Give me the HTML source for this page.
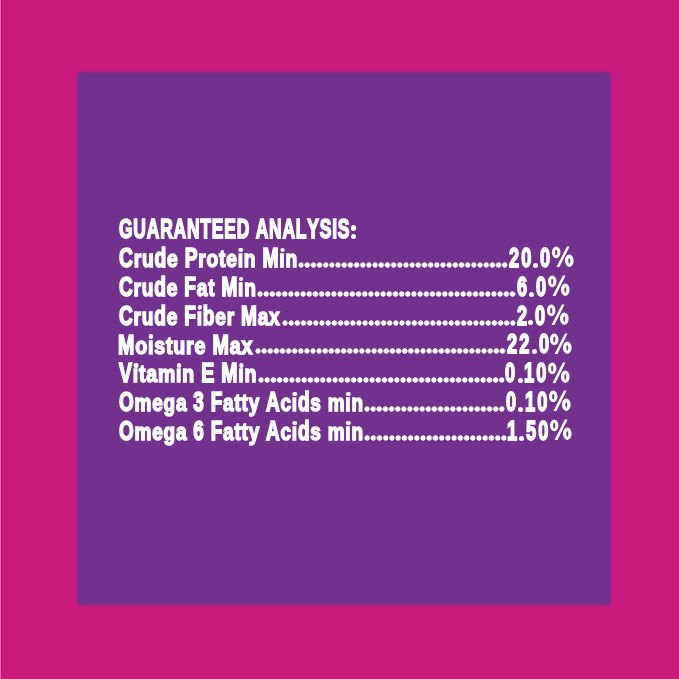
<!DOCTYPE html>
<html><head><meta charset="utf-8"><style>
html,body{margin:0;padding:0;}
body{width:679px;height:679px;background:#c91a7d;position:relative;overflow:hidden;}
.edge{position:absolute;left:0;top:0;width:1px;height:679px;background:#ff62b4;}
.edge2{position:absolute;left:1px;top:0;width:1px;height:679px;background:#ad1468;}
.box{position:absolute;left:76.8px;top:71.7px;width:533.8px;height:533.7px;background:#71318d;border-radius:4px;filter:blur(1.1px);}
.t{position:absolute;font-family:"Liberation Sans",sans-serif;font-weight:bold;font-size:26.9px;line-height:30.052px;color:#fff;white-space:pre;transform-origin:0 0;-webkit-text-stroke:1.75px #fff;font-kerning:none;font-variant-ligatures:none;}
.v{font-size:27.6px;line-height:30.834px;-webkit-text-stroke-width:1.8px;}
.x{display:inline-block;transform:scaleY(0.89);transform-origin:0 24.352px;}
.i{display:inline-block;position:relative;}
.i::after{content:"";position:absolute;left:50%;margin-left:calc(var(--dw) / -2);width:var(--dw);height:4.6px;top:4.652px;border-radius:50%;background:#fff;}
.p{position:absolute;overflow:visible;}
.c{position:absolute;background:#fff;border-radius:50%;}
.d{position:absolute;height:6.0px;background-image:radial-gradient(circle at center,#fff 2.4px,rgba(255,255,255,0) 2.9px);background-size:6.1px 6.0px;background-repeat:space no-repeat;}
</style></head><body>
<div class="edge"></div><div class="edge2"></div>
<div class="box"></div>
<div class="t" style="left:118.82px;top:214.25px;letter-spacing:1.234px;transform:scaleX(0.6485);--dw:7.09px">GUARANTEED ANALYSIS</div>
<div class="c" style="left:351.10px;top:225.30px;width:5.4px;height:5.4px"></div>
<div class="c" style="left:351.10px;top:233.70px;width:5.4px;height:5.4px"></div>
<div class="t" style="left:118.63px;top:243.08px;letter-spacing:1.120px;transform:scaleX(0.7142);--dw:6.44px">C<span class="x">ru</span>d<span class="x">e</span> P<span class="x">rote</span><span class="i"><span class="x">ı</span></span><span class="x">n</span> M<span class="i"><span class="x">ı</span></span><span class="x">n</span></div>
<div class="t v" style="left:508.58px;top:242.84px;letter-spacing:3.333px;transform:scaleX(0.6600);--dw:6.97px">20</div>
<div class="t v" style="left:540.20px;top:242.84px;letter-spacing:3.333px;transform:scaleX(0.6600);--dw:6.97px">0</div>
<div class="c" style="left:533.03px;top:262.68px;width:5.00px;height:5.00px"></div>
<svg class="p" style="left:550.90px;top:245.33px" width="24" height="24" viewBox="-1 -22 24 24"><g transform="scale(1.0047,1)" fill="none" stroke="#fff"><ellipse cx="4.2" cy="-14.6" rx="2.65" ry="4.3" stroke-width="3.1"/><ellipse cx="17.2" cy="-6.2" rx="2.65" ry="4.55" stroke-width="3.3"/><polygon points="14.8,-20.5 17.5,-20.5 7.4,0 4.5,0" fill="#fff" stroke="none"/></g></svg>
<div class="d" style="left:298.30px;top:261.98px;width:209.60px"></div>
<div class="t" style="left:118.63px;top:271.91px;letter-spacing:1.127px;transform:scaleX(0.7097);--dw:6.48px">C<span class="x">ru</span>d<span class="x">e</span> F<span class="x">at</span> M<span class="i"><span class="x">ı</span></span><span class="x">n</span></div>
<div class="t v" style="left:517.16px;top:271.67px;letter-spacing:3.333px;transform:scaleX(0.6600);--dw:6.97px">6</div>
<div class="t v" style="left:536.40px;top:271.67px;letter-spacing:3.333px;transform:scaleX(0.6600);--dw:6.97px">0</div>
<div class="c" style="left:529.34px;top:291.51px;width:5.00px;height:5.00px"></div>
<svg class="p" style="left:546.90px;top:274.16px" width="24" height="24" viewBox="-1 -22 24 24"><g transform="scale(1.0047,1)" fill="none" stroke="#fff"><ellipse cx="4.2" cy="-14.6" rx="2.65" ry="4.3" stroke-width="3.1"/><ellipse cx="17.2" cy="-6.2" rx="2.65" ry="4.55" stroke-width="3.3"/><polygon points="14.8,-20.5 17.5,-20.5 7.4,0 4.5,0" fill="#fff" stroke="none"/></g></svg>
<div class="d" style="left:257.10px;top:290.81px;width:259.40px"></div>
<div class="t" style="left:118.63px;top:300.74px;letter-spacing:1.128px;transform:scaleX(0.7094);--dw:6.48px">C<span class="x">ru</span>d<span class="x">e</span> F<span class="i"><span class="x">ı</span></span>b<span class="x">er</span> M<span class="x">ax</span></div>
<div class="t v" style="left:516.58px;top:300.50px;letter-spacing:3.333px;transform:scaleX(0.6600);--dw:6.97px">2</div>
<div class="t v" style="left:535.20px;top:300.50px;letter-spacing:3.333px;transform:scaleX(0.6600);--dw:6.97px">0</div>
<div class="c" style="left:528.42px;top:320.34px;width:5.00px;height:5.00px"></div>
<svg class="p" style="left:546.10px;top:302.99px" width="24" height="24" viewBox="-1 -22 24 24"><g transform="scale(1.0047,1)" fill="none" stroke="#fff"><ellipse cx="4.2" cy="-14.6" rx="2.65" ry="4.3" stroke-width="3.1"/><ellipse cx="17.2" cy="-6.2" rx="2.65" ry="4.55" stroke-width="3.3"/><polygon points="14.8,-20.5 17.5,-20.5 7.4,0 4.5,0" fill="#fff" stroke="none"/></g></svg>
<div class="d" style="left:281.80px;top:319.64px;width:234.10px"></div>
<div class="t" style="left:118.02px;top:329.57px;letter-spacing:1.095px;transform:scaleX(0.7303);--dw:6.30px">M<span class="x">o</span><span class="i"><span class="x">ı</span></span><span class="x">sture</span> M<span class="x">ax</span></div>
<div class="t v" style="left:507.18px;top:329.33px;letter-spacing:3.333px;transform:scaleX(0.6600);--dw:6.97px">22</div>
<div class="t v" style="left:538.80px;top:329.33px;letter-spacing:3.333px;transform:scaleX(0.6600);--dw:6.97px">0</div>
<div class="c" style="left:531.64px;top:349.17px;width:5.00px;height:5.00px"></div>
<svg class="p" style="left:549.20px;top:331.82px" width="24" height="24" viewBox="-1 -22 24 24"><g transform="scale(1.0047,1)" fill="none" stroke="#fff"><ellipse cx="4.2" cy="-14.6" rx="2.65" ry="4.3" stroke-width="3.1"/><ellipse cx="17.2" cy="-6.2" rx="2.65" ry="4.55" stroke-width="3.3"/><polygon points="14.8,-20.5 17.5,-20.5 7.4,0 4.5,0" fill="#fff" stroke="none"/></g></svg>
<div class="d" style="left:254.80px;top:348.47px;width:251.70px"></div>
<div class="t" style="left:119.39px;top:358.40px;letter-spacing:1.105px;transform:scaleX(0.7242);--dw:6.35px">V<span class="i"><span class="x">ı</span></span><span class="x">tam</span><span class="i"><span class="x">ı</span></span><span class="x">n</span> E M<span class="i"><span class="x">ı</span></span><span class="x">n</span></div>
<div class="t v" style="left:505.34px;top:358.16px;letter-spacing:3.333px;transform:scaleX(0.6600);--dw:6.97px">0</div>
<div class="t v" style="left:524.17px;top:358.16px;letter-spacing:3.333px;transform:scaleX(0.6600);--dw:6.97px">10</div>
<div class="c" style="left:517.55px;top:378.00px;width:5.00px;height:5.00px"></div>
<svg class="p" style="left:547.30px;top:360.65px" width="24" height="24" viewBox="-1 -22 24 24"><g transform="scale(1.0047,1)" fill="none" stroke="#fff"><ellipse cx="4.2" cy="-14.6" rx="2.65" ry="4.3" stroke-width="3.1"/><ellipse cx="17.2" cy="-6.2" rx="2.65" ry="4.55" stroke-width="3.3"/><polygon points="14.8,-20.5 17.5,-20.5 7.4,0 4.5,0" fill="#fff" stroke="none"/></g></svg>
<div class="d" style="left:258.30px;top:377.30px;width:246.40px"></div>
<div class="t" style="left:118.62px;top:387.23px;letter-spacing:1.136px;transform:scaleX(0.7045);--dw:6.53px">O<span class="x">mega</span> 3 F<span class="x">atty</span> A<span class="x">c</span><span class="i"><span class="x">ı</span></span>d<span class="x">s</span> <span class="x">m</span><span class="i"><span class="x">ı</span></span><span class="x">n</span></div>
<div class="t v" style="left:505.94px;top:386.99px;letter-spacing:3.333px;transform:scaleX(0.6600);--dw:6.97px">0</div>
<div class="t v" style="left:524.77px;top:386.99px;letter-spacing:3.333px;transform:scaleX(0.6600);--dw:6.97px">10</div>
<div class="c" style="left:518.15px;top:406.83px;width:5.00px;height:5.00px"></div>
<svg class="p" style="left:547.90px;top:389.48px" width="24" height="24" viewBox="-1 -22 24 24"><g transform="scale(1.0047,1)" fill="none" stroke="#fff"><ellipse cx="4.2" cy="-14.6" rx="2.65" ry="4.3" stroke-width="3.1"/><ellipse cx="17.2" cy="-6.2" rx="2.65" ry="4.55" stroke-width="3.3"/><polygon points="14.8,-20.5 17.5,-20.5 7.4,0 4.5,0" fill="#fff" stroke="none"/></g></svg>
<div class="d" style="left:364.20px;top:406.13px;width:141.10px"></div>
<div class="t" style="left:118.62px;top:416.06px;letter-spacing:1.136px;transform:scaleX(0.7045);--dw:6.53px">O<span class="x">mega</span> 6 F<span class="x">atty</span> A<span class="x">c</span><span class="i"><span class="x">ı</span></span>d<span class="x">s</span> <span class="x">m</span><span class="i"><span class="x">ı</span></span><span class="x">n</span></div>
<div class="t v" style="left:507.21px;top:415.82px;letter-spacing:3.333px;transform:scaleX(0.6600);--dw:6.97px">1</div>
<div class="t v" style="left:525.97px;top:415.82px;letter-spacing:3.333px;transform:scaleX(0.6600);--dw:6.97px">50</div>
<div class="c" style="left:519.17px;top:435.66px;width:5.00px;height:5.00px"></div>
<svg class="p" style="left:549.00px;top:418.31px" width="24" height="24" viewBox="-1 -22 24 24"><g transform="scale(1.0047,1)" fill="none" stroke="#fff"><ellipse cx="4.2" cy="-14.6" rx="2.65" ry="4.3" stroke-width="3.1"/><ellipse cx="17.2" cy="-6.2" rx="2.65" ry="4.55" stroke-width="3.3"/><polygon points="14.8,-20.5 17.5,-20.5 7.4,0 4.5,0" fill="#fff" stroke="none"/></g></svg>
<div class="d" style="left:364.20px;top:434.96px;width:142.90px"></div>
</body></html>
